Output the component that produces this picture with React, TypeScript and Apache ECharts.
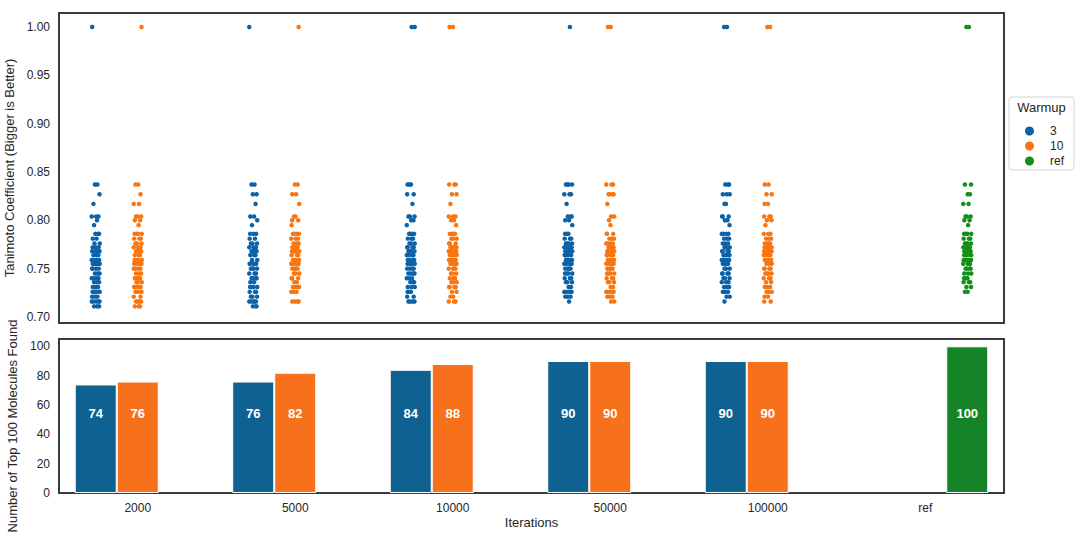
import React, { useEffect, useRef } from "react";
import * as echarts from "echarts";

// ---------- data ----------
const categories = ["2000", "5000", "10000", "50000", "100000", "ref"];
const hues = ["3", "10", "ref"];

// bar chart: number of top-100 molecules found
const found3 = [74, 76, 84, 90, 90, null];
const found10 = [76, 82, 88, 90, 90, null];
const foundRef = [null, null, null, null, null, 100];

// strip plot: Tanimoto levels and number of molecules at each level
const levels = [
  1.0, 0.837, 0.827, 0.817, 0.804, 0.8, 0.795, 0.786, 0.781, 0.776, 0.772, 0.768,
  0.764, 0.759, 0.755, 0.75, 0.745, 0.74, 0.736, 0.731, 0.726, 0.721, 0.716, 0.711,
];

// counts per level, one array per iteration category (2000, 5000, 10000, 50000, 100000)
const counts3 = [
  [1, 2, 1, 1, 3, 1, 1, 3, 2, 2, 3, 4, 3, 4, 6, 4, 3, 4, 3, 4, 5, 3, 5, 3],
  [1, 2, 2, 1, 2, 1, 1, 3, 2, 3, 3, 4, 3, 2, 5, 4, 3, 4, 2, 4, 3, 3, 5, 3],
  [2, 3, 2, 1, 3, 2, 1, 4, 3, 3, 4, 4, 4, 4, 5, 4, 4, 3, 3, 3, 3, 2, 4, 0],
  [1, 4, 3, 1, 3, 2, 1, 3, 3, 4, 5, 5, 5, 5, 5, 4, 4, 3, 3, 2, 4, 3, 1, 0],
  [2, 3, 3, 2, 3, 2, 1, 4, 3, 3, 4, 4, 5, 4, 4, 3, 4, 3, 3, 3, 3, 2, 1, 0],
];
const counts10 = [
  [1, 2, 1, 2, 3, 2, 1, 4, 3, 3, 3, 4, 3, 4, 5, 4, 3, 4, 3, 5, 3, 2, 4, 3],
  [1, 2, 2, 1, 2, 2, 1, 4, 3, 3, 4, 4, 3, 4, 5, 4, 3, 3, 2, 4, 3, 0, 4, 0],
  [2, 3, 2, 1, 3, 2, 1, 4, 3, 3, 5, 5, 5, 5, 4, 4, 3, 3, 3, 4, 2, 2, 3, 0],
  [2, 3, 4, 1, 2, 1, 1, 3, 3, 4, 4, 5, 5, 5, 4, 4, 4, 3, 3, 2, 4, 3, 2, 0],
  [2, 2, 2, 2, 3, 2, 1, 3, 3, 4, 4, 5, 5, 5, 4, 4, 4, 3, 2, 3, 3, 2, 2, 0],
];
const countsRef = [2, 2, 2, 2, 3, 2, 1, 4, 3, 4, 4, 5, 5, 5, 4, 4, 3, 3, 3, 2, 2, 0, 0, 0];

// fixed horizontal jitter pattern (fraction of the jitter half-width)
const jitterPattern = [
  -0.85, 0.4, -0.2, 0.9, -0.55, 0.1, 0.65, -0.95, 0.3, -0.4, 0.8, -0.1, 0.55, -0.7, 0.2,
  0.95, -0.3, 0.05, -0.75, 0.7,
];

// ---------- styles ----------
const stripColors = ["#0c62a8", "#f87510", "#138f18"];
const barColors = ["#0f6191", "#f7711c", "#158427"];
const FONT = "'Liberation Sans', Arial, sans-serif";
const TXT = "#262626";

const hueWidth = 0.8 / 3;
const jitterHalf = 0.1 * hueWidth;

function buildPoints(catIndex: number, hueIndex: number, counts: number[]) {
  const pts: number[][] = [];
  const offset = (hueIndex - 1) * hueWidth;
  let k = catIndex * 7 + hueIndex * 3;
  counts.forEach((n, li) => {
    for (let j = 0; j < n; j++) {
      const jit = jitterPattern[k % jitterPattern.length] * jitterHalf;
      k++;
      pts.push([catIndex + offset + jit, levels[li]]);
    }
  });
  return pts;
}

const points3 = counts3.flatMap((c, i) => buildPoints(i, 0, c));
const points10 = counts10.flatMap((c, i) => buildPoints(i, 1, c));
const pointsRef = buildPoints(5, 2, countsRef);

export default function App() {
  const ref = useRef<HTMLDivElement>(null);
  useEffect(() => {
    const chart = echarts.init(ref.current!, null, { renderer: "svg" });
    const barLabel = {
      show: true,
      position: "insideBottom",
      distance: 73,
      color: "#fff",
      fontWeight: "bold",
      fontSize: 13,
      fontFamily: FONT,
    };
    const gridBase = {
      left: 59, width: 945, show: true, borderColor: "#3b3b3b", borderWidth: 2,
      backgroundColor: "#fff", containLabel: false, outerBoundsMode: "none",
    };
    const option: any = {
      animation: false,
      backgroundColor: "#fff",
      textStyle: { fontFamily: FONT },
      grid: [
        { ...gridBase, top: 13, height: 310 },
        { ...gridBase, top: 339, height: 154 },
      ],
      xAxis: [
        {
          gridIndex: 0, type: "value", min: -0.5, max: 5.5,
          axisLine: { show: false }, axisTick: { show: false }, axisLabel: { show: false }, splitLine: { show: false },
        },
        {
          gridIndex: 1, type: "category", data: categories,
          axisLine: { show: false }, axisTick: { show: false }, splitLine: { show: false },
          axisLabel: { color: TXT, fontSize: 12, margin: 9, fontFamily: FONT },
          name: "Iterations", nameLocation: "middle", nameGap: 23,
          nameTextStyle: { color: TXT, fontSize: 13, fontFamily: FONT },
        },
      ],
      yAxis: [
        {
          gridIndex: 0, type: "value", min: 0.69375, max: 1.0145,
          axisLine: { show: false }, axisTick: { show: false }, splitLine: { show: false },
          axisLabel: {
            color: TXT, fontSize: 12, margin: 9, fontFamily: FONT,
            customValues: [0.7, 0.75, 0.8, 0.85, 0.9, 0.95, 1.0],
            formatter: (v: number) => v.toFixed(2),
          },
          name: "Tanimoto Coefficient (Bigger is Better)", nameLocation: "middle", nameGap: 31,
          nameTextStyle: { color: TXT, fontSize: 13, fontFamily: FONT },
        },
        {
          gridIndex: 1, type: "value", min: 0, max: 105,
          axisLine: { show: false }, axisTick: { show: false }, splitLine: { show: false },
          axisLabel: {
            color: TXT, fontSize: 12, margin: 9, fontFamily: FONT,
            customValues: [0, 20, 40, 60, 80, 100],
          },
          name: "Number of Top 100 Molecules Found", nameLocation: "middle", nameGap: 31,
          nameTextStyle: { color: TXT, fontSize: 13, fontFamily: FONT, padding: [0, 20, 0, 0] },
        },
      ],
      legend: {
        data: hues.map((h, i) => ({ name: h, itemStyle: { color: stripColors[i] } })),
        orient: "vertical", left: 1020, top: 120, icon: "circle",
        itemWidth: 9, itemHeight: 9, itemGap: 3, selectedMode: false,
        textStyle: { color: TXT, fontSize: 12, fontFamily: FONT, padding: [0, 0, 0, 11] },
      },
      graphic: [
        {
          type: "rect", x: 1009, y: 97, z: 0,
          shape: { width: 65, height: 73, r: 3 },
          style: { fill: "#fff", stroke: "#d4d4d4", lineWidth: 1 },
        },
        {
          type: "text", x: 1041.5, y: 107, z: 1,
          style: { text: "Warmup", fontSize: 13, fontFamily: FONT, fill: TXT, align: "center", verticalAlign: "middle" },
        },
      ],
      series: [
        { type: "scatter", name: hues[0], xAxisIndex: 0, yAxisIndex: 0, data: points3, symbolSize: 4.5, itemStyle: { color: stripColors[0], opacity: 1 } },
        { type: "scatter", name: hues[1], xAxisIndex: 0, yAxisIndex: 0, data: points10, symbolSize: 4.5, itemStyle: { color: stripColors[1], opacity: 1 } },
        { type: "scatter", name: hues[2], xAxisIndex: 0, yAxisIndex: 0, data: pointsRef, symbolSize: 4.5, itemStyle: { color: stripColors[2], opacity: 1 } },
        {
          type: "bar", name: hues[0], xAxisIndex: 1, yAxisIndex: 1, data: found3, barWidth: "26.67%", barGap: "0%",
          itemStyle: { color: barColors[0], borderColor: "#fff", borderWidth: 1 }, label: barLabel,
        },
        {
          type: "bar", name: hues[1], xAxisIndex: 1, yAxisIndex: 1, data: found10, barWidth: "26.67%", barGap: "0%",
          itemStyle: { color: barColors[1], borderColor: "#fff", borderWidth: 1 }, label: barLabel,
        },
        {
          type: "bar", name: hues[2], xAxisIndex: 1, yAxisIndex: 1, data: foundRef, barWidth: "26.67%", barGap: "0%",
          itemStyle: { color: barColors[2], borderColor: "#fff", borderWidth: 1 }, label: barLabel,
        },
      ],
    };
    chart.setOption(option);
    return () => chart.dispose();
  }, []);
  return <div ref={ref} style={{ position: "fixed", left: 0, top: 0, width: 1080, height: 534 }} />;
}
